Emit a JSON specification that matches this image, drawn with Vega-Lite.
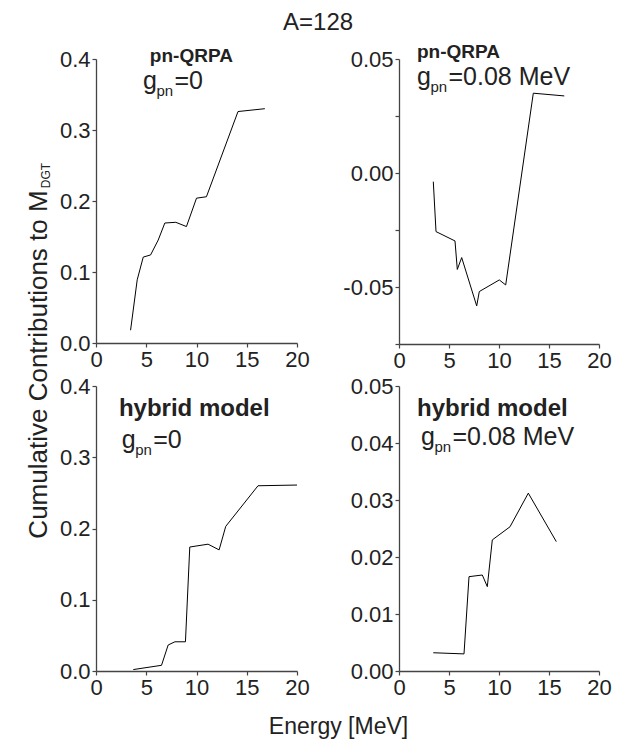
{
  "$schema": "https://vega.github.io/schema/vega-lite/v6.json",
  "padding": {"left": 25, "top": 11, "right": 10, "bottom": 2},
  "background": "white",
  "title": {"text": "A=128", "fontSize": 24, "font": "Liberation Sans", "fontWeight": "normal", "color": "#222", "anchor": "middle", "offset": 8},
  "config": {
    "view": {"stroke": null},
    "font": "Liberation Sans",
    "axis": {"grid": false, "domainColor": "#444", "domainWidth": 1.3, "tickColor": "#444", "tickSize": 4, "tickWidth": 1.2, "labelFont": "Liberation Sans", "labelFontSize": 22, "labelColor": "#222", "labelPadding": 2, "titleFont": "Liberation Sans", "titleFontWeight": "normal", "titleColor": "#222", "labelOverlap": false, "labelBound": false, "labelFlush": false}
  },
  "datasets": {
    "curves": [
      {"panel": "p1", "e": 3.44, "v": 0.018},
      {"panel": "p1", "e": 4.1, "v": 0.089},
      {"panel": "p1", "e": 4.7, "v": 0.121},
      {"panel": "p1", "e": 5.43, "v": 0.124},
      {"panel": "p1", "e": 6.19, "v": 0.145},
      {"panel": "p1", "e": 6.85, "v": 0.169},
      {"panel": "p1", "e": 7.94, "v": 0.17},
      {"panel": "p1", "e": 9.0, "v": 0.164},
      {"panel": "p1", "e": 10.0, "v": 0.204},
      {"panel": "p1", "e": 10.99, "v": 0.206},
      {"panel": "p1", "e": 14.13, "v": 0.326},
      {"panel": "p1", "e": 16.8, "v": 0.33},
      {"panel": "p2", "e": 3.43, "v": -0.0038},
      {"panel": "p2", "e": 3.7, "v": -0.0257},
      {"panel": "p2", "e": 5.6, "v": -0.0298},
      {"panel": "p2", "e": 5.83, "v": -0.0423},
      {"panel": "p2", "e": 6.27, "v": -0.0371},
      {"panel": "p2", "e": 7.77, "v": -0.0583},
      {"panel": "p2", "e": 8.03, "v": -0.052},
      {"panel": "p2", "e": 10.03, "v": -0.0469},
      {"panel": "p2", "e": 10.67, "v": -0.0491},
      {"panel": "p2", "e": 13.43, "v": 0.035},
      {"panel": "p2", "e": 16.53, "v": 0.0338},
      {"panel": "p3", "e": 3.71, "v": 0.002},
      {"panel": "p3", "e": 6.52, "v": 0.008},
      {"panel": "p3", "e": 7.18, "v": 0.0365},
      {"panel": "p3", "e": 7.85, "v": 0.041},
      {"panel": "p3", "e": 8.9, "v": 0.041},
      {"panel": "p3", "e": 9.33, "v": 0.174},
      {"panel": "p3", "e": 11.15, "v": 0.178},
      {"panel": "p3", "e": 12.25, "v": 0.17},
      {"panel": "p3", "e": 12.91, "v": 0.203},
      {"panel": "p3", "e": 16.12, "v": 0.26},
      {"panel": "p3", "e": 20.0, "v": 0.261},
      {"panel": "p4", "e": 3.43, "v": 0.0032},
      {"panel": "p4", "e": 6.5, "v": 0.003},
      {"panel": "p4", "e": 7.0, "v": 0.01655},
      {"panel": "p4", "e": 8.33, "v": 0.01684},
      {"panel": "p4", "e": 8.83, "v": 0.0148},
      {"panel": "p4", "e": 9.33, "v": 0.023},
      {"panel": "p4", "e": 11.1, "v": 0.0253},
      {"panel": "p4", "e": 12.93, "v": 0.0312},
      {"panel": "p4", "e": 15.73, "v": 0.0227}
    ],
    "notes": [
      {"panel": "p1", "hx": 5.36, "hy": 0.3955, "head": "pn-QRPA", "gx": 4.67, "gy": 0.358, "g": "g", "sub": "pn", "rest": "=0"},
      {"panel": "p2", "hx": 1.8, "hy": 0.0504, "head": "pn-QRPA", "gx": 1.8, "gy": 0.0386, "g": "g", "sub": "pn", "rest": "=0.08 MeV"},
      {"panel": "p3", "hx": 2.28, "hy": 0.358, "head": "hybrid model", "gx": 2.55, "gy": 0.313, "g": "g", "sub": "pn", "rest": "=0"},
      {"panel": "p4", "hx": 1.8, "hy": 0.0448, "head": "hybrid model", "gx": 2.2, "gy": 0.0396, "g": "g", "sub": "pn", "rest": "=0.08 MeV"}
    ]
  },
  "columns": 2,
  "spacing": {"row": 42, "column": 102},
  "bounds": "flush",
  "concat": [
    {
      "width": 201, "height": 284,
      "layer": [
        {
          "data": {"name": "curves"},
          "transform": [{"filter": "datum.panel == 'p1'"}],
          "mark": {"type": "line", "color": "black", "strokeWidth": 1, "clip": true},
          "encoding": {
            "x": {"field": "e", "type": "quantitative", "scale": {"domain": [0, 20], "nice": false},
              "axis": {"title": null, "values": [0, 2.5, 5, 7.5, 10, 12.5, 15, 17.5, 20], "labelExpr": "datum.value % 5 == 0 ? format(datum.value, 'd') : ''"}},
            "y": {"field": "v", "type": "quantitative", "scale": {"domain": [0, 0.4], "nice": false, "zero": false},
              "axis": {"values": [0, 0.05, 0.1, 0.15, 0.2, 0.25, 0.3, 0.35, 0.4], "labelExpr": "round(datum.value * 100) % 10 == 0 ? format(datum.value, '.1f') : ''",
                "title": "Cumulative Contributions to M", "titleFontSize": 26, "titleAngle": -90, "titleAlign": "center", "titleBaseline": "alphabetic", "titleX": -50, "titleY": 305}},
            "order": {"field": "e", "type": "quantitative"}
          }
        },
        {
          "data": {"name": "notes"},
          "transform": [{"filter": "datum.panel == 'p1'"}],
          "mark": {"type": "text", "align": "left", "baseline": "alphabetic", "fontWeight": "bold", "fontSize": 19, "color": "#222"},
          "encoding": {"x": {"field": "hx", "type": "quantitative"}, "y": {"field": "hy", "type": "quantitative"}, "text": {"field": "head"}}
        },
        {
          "data": {"name": "notes"},
          "transform": [{"filter": "datum.panel == 'p1'"}],
          "mark": {"type": "text", "align": "left", "baseline": "alphabetic", "fontSize": 25, "color": "#222"},
          "encoding": {"x": {"field": "gx", "type": "quantitative"}, "y": {"field": "gy", "type": "quantitative"}, "text": {"field": "g"}}
        },
        {
          "data": {"name": "notes"},
          "transform": [{"filter": "datum.panel == 'p1'"}],
          "mark": {"type": "text", "align": "left", "baseline": "alphabetic", "fontSize": 15, "dx": 13.5, "dy": 7, "color": "#222"},
          "encoding": {"x": {"field": "gx", "type": "quantitative"}, "y": {"field": "gy", "type": "quantitative"}, "text": {"field": "sub"}}
        },
        {
          "data": {"name": "notes"},
          "transform": [{"filter": "datum.panel == 'p1'"}],
          "mark": {"type": "text", "align": "left", "baseline": "alphabetic", "fontSize": 25, "dx": 31.5, "color": "#222"},
          "encoding": {"x": {"field": "gx", "type": "quantitative"}, "y": {"field": "gy", "type": "quantitative"}, "text": {"field": "rest"}}
        }
      ]
    },
    {
      "width": 200, "height": 285,
      "layer": [
        {
          "data": {"name": "curves"},
          "transform": [{"filter": "datum.panel == 'p2'"}],
          "mark": {"type": "line", "color": "black", "strokeWidth": 1, "clip": true},
          "encoding": {
            "x": {"field": "e", "type": "quantitative", "scale": {"domain": [0, 20], "nice": false},
              "axis": {"title": null, "values": [0, 2.5, 5, 7.5, 10, 12.5, 15, 17.5, 20], "labelExpr": "datum.value % 5 == 0 ? format(datum.value, 'd') : ''"}},
            "y": {"field": "v", "type": "quantitative", "scale": {"domain": [-0.075, 0.05], "nice": false, "zero": false},
              "axis": {"title": null, "values": [-0.075, -0.05, -0.025, 0, 0.025, 0.05], "labelExpr": "datum.value == -0.05 ? '-0.05' : datum.value == 0 ? '0.00' : datum.value == 0.05 ? '0.05' : ''"}},
            "order": {"field": "e", "type": "quantitative"}
          }
        },
        {
          "data": {"name": "notes"},
          "transform": [{"filter": "datum.panel == 'p2'"}],
          "mark": {"type": "text", "align": "left", "baseline": "alphabetic", "fontWeight": "bold", "fontSize": 19, "color": "#222"},
          "encoding": {"x": {"field": "hx", "type": "quantitative"}, "y": {"field": "hy", "type": "quantitative"}, "text": {"field": "head"}}
        },
        {
          "data": {"name": "notes"},
          "transform": [{"filter": "datum.panel == 'p2'"}],
          "mark": {"type": "text", "align": "left", "baseline": "alphabetic", "fontSize": 25, "color": "#222"},
          "encoding": {"x": {"field": "gx", "type": "quantitative"}, "y": {"field": "gy", "type": "quantitative"}, "text": {"field": "g"}}
        },
        {
          "data": {"name": "notes"},
          "transform": [{"filter": "datum.panel == 'p2'"}],
          "mark": {"type": "text", "align": "left", "baseline": "alphabetic", "fontSize": 15, "dx": 13.5, "dy": 7, "color": "#222"},
          "encoding": {"x": {"field": "gx", "type": "quantitative"}, "y": {"field": "gy", "type": "quantitative"}, "text": {"field": "sub"}}
        },
        {
          "data": {"name": "notes"},
          "transform": [{"filter": "datum.panel == 'p2'"}],
          "mark": {"type": "text", "align": "left", "baseline": "alphabetic", "fontSize": 25, "dx": 31.5, "color": "#222"},
          "encoding": {"x": {"field": "gx", "type": "quantitative"}, "y": {"field": "gy", "type": "quantitative"}, "text": {"field": "rest"}}
        }
      ]
    },
    {
      "width": 201, "height": 285,
      "layer": [
        {
          "data": {"name": "curves"},
          "transform": [{"filter": "datum.panel == 'p3'"}],
          "mark": {"type": "line", "color": "black", "strokeWidth": 1, "clip": true},
          "encoding": {
            "x": {"field": "e", "type": "quantitative", "scale": {"domain": [0, 20], "nice": false},
              "axis": {"values": [0, 2.5, 5, 7.5, 10, 12.5, 15, 17.5, 20], "labelExpr": "datum.value % 5 == 0 ? format(datum.value, 'd') : ''",
                "title": "Energy [MeV]", "titleFontSize": 23, "titleAlign": "center", "titleBaseline": "alphabetic", "titleX": 242, "titleY": 62}},
            "y": {"field": "v", "type": "quantitative", "scale": {"domain": [0, 0.4], "nice": false, "zero": false},
              "axis": {"values": [0, 0.05, 0.1, 0.15, 0.2, 0.25, 0.3, 0.35, 0.4], "labelExpr": "round(datum.value * 100) % 10 == 0 ? format(datum.value, '.1f') : ''",
                "title": "DGT", "titleFontSize": 12, "titleAngle": -90, "titleAlign": "center", "titleBaseline": "alphabetic", "titleX": -47, "titleY": -211}},
            "order": {"field": "e", "type": "quantitative"}
          }
        },
        {
          "data": {"name": "notes"},
          "transform": [{"filter": "datum.panel == 'p3'"}],
          "mark": {"type": "text", "align": "left", "baseline": "alphabetic", "fontWeight": "bold", "fontSize": 24, "color": "#222"},
          "encoding": {"x": {"field": "hx", "type": "quantitative"}, "y": {"field": "hy", "type": "quantitative"}, "text": {"field": "head"}}
        },
        {
          "data": {"name": "notes"},
          "transform": [{"filter": "datum.panel == 'p3'"}],
          "mark": {"type": "text", "align": "left", "baseline": "alphabetic", "fontSize": 25, "color": "#222"},
          "encoding": {"x": {"field": "gx", "type": "quantitative"}, "y": {"field": "gy", "type": "quantitative"}, "text": {"field": "g"}}
        },
        {
          "data": {"name": "notes"},
          "transform": [{"filter": "datum.panel == 'p3'"}],
          "mark": {"type": "text", "align": "left", "baseline": "alphabetic", "fontSize": 15, "dx": 13.5, "dy": 7, "color": "#222"},
          "encoding": {"x": {"field": "gx", "type": "quantitative"}, "y": {"field": "gy", "type": "quantitative"}, "text": {"field": "sub"}}
        },
        {
          "data": {"name": "notes"},
          "transform": [{"filter": "datum.panel == 'p3'"}],
          "mark": {"type": "text", "align": "left", "baseline": "alphabetic", "fontSize": 25, "dx": 31.5, "color": "#222"},
          "encoding": {"x": {"field": "gx", "type": "quantitative"}, "y": {"field": "gy", "type": "quantitative"}, "text": {"field": "rest"}}
        }
      ]
    },
    {
      "width": 200, "height": 285,
      "layer": [
        {
          "data": {"name": "curves"},
          "transform": [{"filter": "datum.panel == 'p4'"}],
          "mark": {"type": "line", "color": "black", "strokeWidth": 1, "clip": true},
          "encoding": {
            "x": {"field": "e", "type": "quantitative", "scale": {"domain": [0, 20], "nice": false},
              "axis": {"title": null, "values": [0, 2.5, 5, 7.5, 10, 12.5, 15, 17.5, 20], "labelExpr": "datum.value % 5 == 0 ? format(datum.value, 'd') : ''"}},
            "y": {"field": "v", "type": "quantitative", "scale": {"domain": [0, 0.05], "nice": false, "zero": false},
              "axis": {"title": null, "values": [0, 0.005, 0.01, 0.015, 0.02, 0.025, 0.03, 0.035, 0.04, 0.045, 0.05], "labelExpr": "round(datum.value * 1000) % 10 == 0 ? format(datum.value, '.2f') : ''"}},
            "order": {"field": "e", "type": "quantitative"}
          }
        },
        {
          "data": {"name": "notes"},
          "transform": [{"filter": "datum.panel == 'p4'"}],
          "mark": {"type": "text", "align": "left", "baseline": "alphabetic", "fontWeight": "bold", "fontSize": 24, "color": "#222"},
          "encoding": {"x": {"field": "hx", "type": "quantitative"}, "y": {"field": "hy", "type": "quantitative"}, "text": {"field": "head"}}
        },
        {
          "data": {"name": "notes"},
          "transform": [{"filter": "datum.panel == 'p4'"}],
          "mark": {"type": "text", "align": "left", "baseline": "alphabetic", "fontSize": 25, "color": "#222"},
          "encoding": {"x": {"field": "gx", "type": "quantitative"}, "y": {"field": "gy", "type": "quantitative"}, "text": {"field": "g"}}
        },
        {
          "data": {"name": "notes"},
          "transform": [{"filter": "datum.panel == 'p4'"}],
          "mark": {"type": "text", "align": "left", "baseline": "alphabetic", "fontSize": 15, "dx": 13.5, "dy": 7, "color": "#222"},
          "encoding": {"x": {"field": "gx", "type": "quantitative"}, "y": {"field": "gy", "type": "quantitative"}, "text": {"field": "sub"}}
        },
        {
          "data": {"name": "notes"},
          "transform": [{"filter": "datum.panel == 'p4'"}],
          "mark": {"type": "text", "align": "left", "baseline": "alphabetic", "fontSize": 25, "dx": 31.5, "color": "#222"},
          "encoding": {"x": {"field": "gx", "type": "quantitative"}, "y": {"field": "gy", "type": "quantitative"}, "text": {"field": "rest"}}
        }
      ]
    }
  ]
}
